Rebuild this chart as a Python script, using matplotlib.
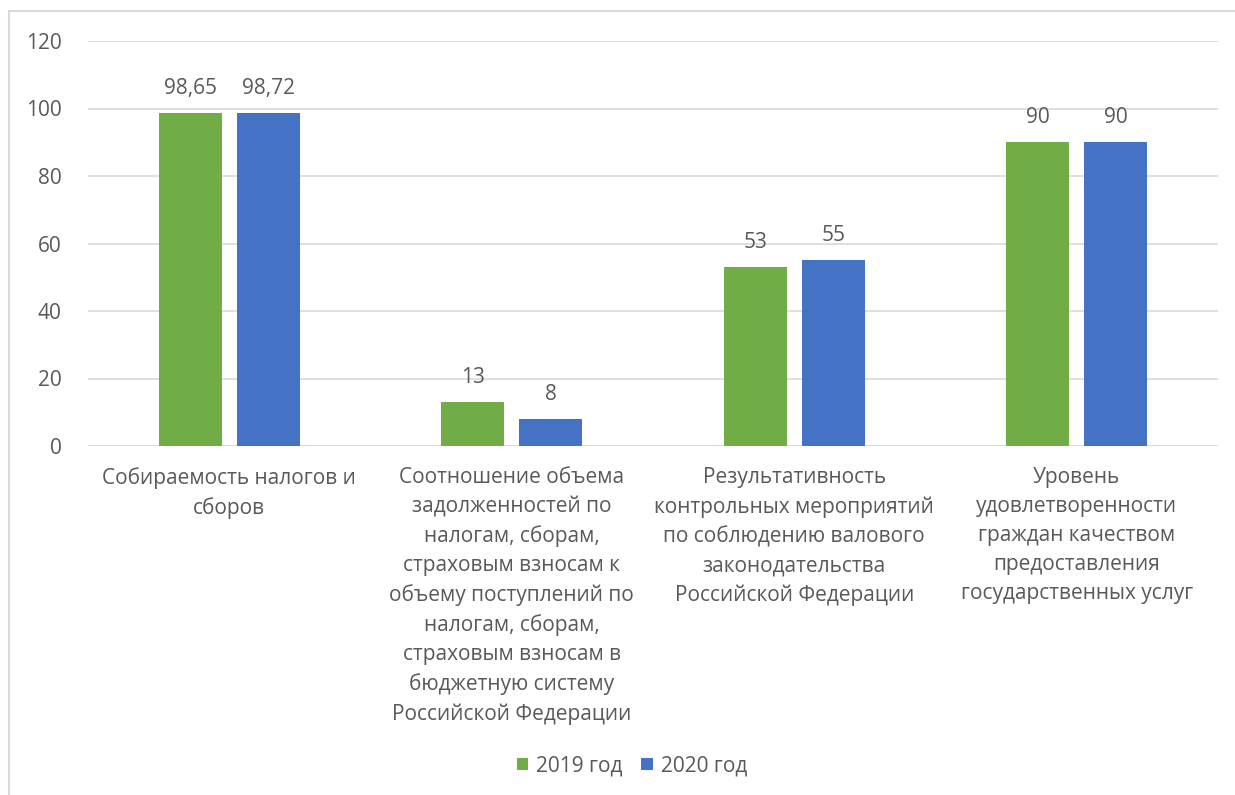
import matplotlib
matplotlib.use('Agg')
import matplotlib.pyplot as plt
import numpy as np
from matplotlib.patches import Rectangle

plt.rcParams['font.family'] = ['Open Sans', 'DejaVu Sans']

categories = [
    'Собираемость налогов и\nсборов',
    'Соотношение объема\nзадолженностей по\nналогам, сборам,\nстраховым взносам к\nобъему поступлений по\nналогам, сборам,\nстраховым взносам в\nбюджетную систему\nРоссийской Федерации',
    'Результативность\nконтрольных мероприятий\nпо соблюдению валового\nзаконодательства\nРоссийской Федерации',
    'Уровень\nудовлетворенности\nграждан качеством\nпредоставления\nгосударственных услуг',
]
values_2019 = [98.65, 13, 53, 90]
values_2020 = [98.72, 8, 55, 90]
labels_2019 = ['98,65', '13', '53', '90']
labels_2020 = ['98,72', '8', '55', '90']
series_names = ['2019 год', '2020 год']
yticks = [0, 20, 40, 60, 80, 100, 120]

green = '#70AD47'
blue = '#4472C4'
text_color = '#595959'
fs = 15

fig = plt.figure(figsize=(12.35, 7.95), dpi=100)
ax = fig.add_axes([88 / 1235, 1 - 446 / 795, (1218 - 88) / 1235, (446 - 41) / 795])

x = np.arange(len(categories))
w = 0.223
off = 0.138
b1 = ax.bar(x - off, values_2019, w, color=green, label=series_names[0], zorder=3)
b2 = ax.bar(x + off, values_2020, w, color=blue, label=series_names[1], zorder=3)

for bars, labs in ((b1, labels_2019), (b2, labels_2020)):
    for bar, lab in zip(bars, labs):
        ax.annotate(lab, (bar.get_x() + bar.get_width() / 2, bar.get_height()),
                    xytext=(0, 10), textcoords='offset points', ha='center', va='bottom',
                    fontsize=fs, color=text_color)

ax.set_xlim(-0.5, 3.5)
ax.set_ylim(0, 120)
ax.set_yticks(yticks)
ax.set_yticklabels([str(t) for t in yticks], fontsize=fs, color=text_color)
ax.tick_params(axis='y', length=0, pad=19)
ax.grid(axis='y', color='#D9D9D9', linewidth=1.2, zorder=0)
ax.set_xticks([])
for s in ax.spines.values():
    s.set_visible(False)
ax.axhline(0, color='#D9D9D9', linewidth=1.2, zorder=2)

for xi, cat in zip(x, categories):
    ax.text(xi, -6.3, cat, ha='center', va='top', fontsize=fs, color=text_color,
            linespacing=1.49, transform=ax.transData, clip_on=False)

fig.legend(handles=[b1, b2], labels=series_names, loc='center', bbox_to_anchor=(632 / 1235, 1 - 766 / 795),
           ncol=2, frameon=False, fontsize=fs, labelcolor=text_color, handlelength=0.55,
           handleheight=0.55, handletextpad=0.4, columnspacing=0.9)

# outer chart border
fig.patches.append(Rectangle((9 / 1235, -0.01), 1.02, 1 - 11 / 795 + 0.01, transform=fig.transFigure,
                             fill=False, edgecolor='#D9D9D9', linewidth=1.5))

fig.savefig('out.png', dpi=100)
